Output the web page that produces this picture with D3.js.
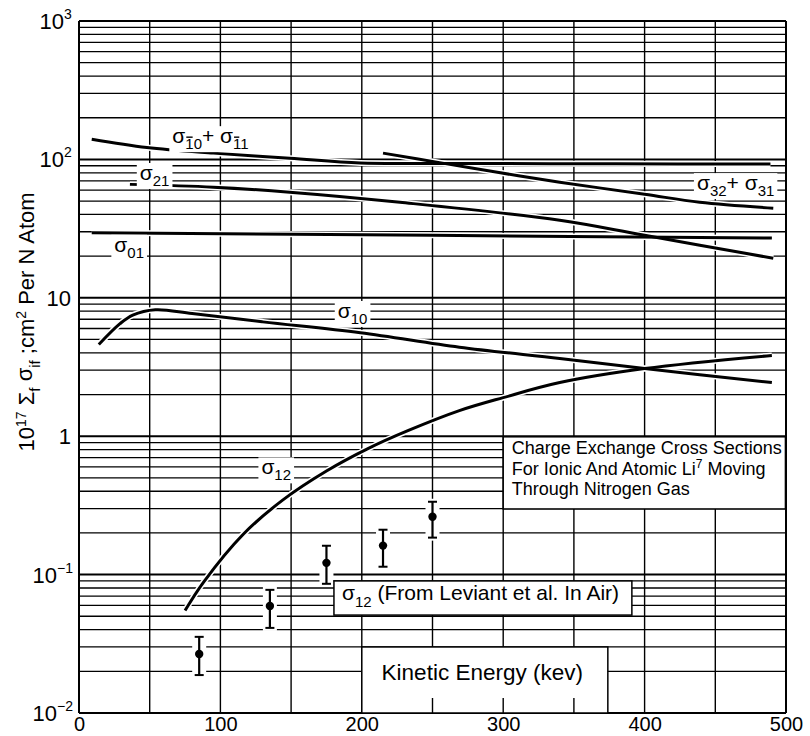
<!DOCTYPE html>
<html>
<head>
<meta charset="utf-8">
<script src="https://cdn.jsdelivr.net/npm/d3@7/dist/d3.min.js"></script>
<style>
	body { margin: 0; background: #fff; }
	text { font-family: "Liberation Sans", Arial, sans-serif; fill: #000; }
</style>
</head>
<body>
<div id="chart"></div>
<script>

// energies in kev, cross sections in 1e-17 cm2 per N atom
const sigNegX = [9, 48, 95, 149, 199, 260, 380, 489];
const sigNegY = [140, 122, 111, 102, 94, 93.5, 93, 92.5];

const sig3X = [215, 257, 298, 340, 400, 439, 491];
const sig3Y = [111, 94, 80, 68.4, 56, 49, 44.4];

const sig21X = [36, 95, 149, 227, 340, 399, 491];
const sig21Y = [66, 63, 58, 49, 36.3, 28.4, 19.3];

const sig01X = [9, 250, 490];
const sig01Y = [29.5, 28.3, 27];

const sig10X = [14, 29, 38, 54, 80, 130, 199, 269, 340, 400, 490];
const sig10Y = [4.6, 6.5, 7.5, 8.2, 7.7, 6.7, 5.6, 4.4, 3.64, 3.08, 2.44];

const sig12X = [75, 88, 116, 144, 175, 204, 233, 269, 300, 340, 400, 490];
const sig12Y = [0.055, 0.088, 0.195, 0.345, 0.56, 0.81, 1.1, 1.53, 1.9, 2.44, 3.08, 3.83];

// Leviant et al., in air
const airX = [85, 135, 175, 215, 250];
const airY = [0.0267, 0.0594, 0.1216, 0.162, 0.262];
const airLo = [0.0188, 0.0412, 0.0858, 0.114, 0.185];
const airHi = [0.0355, 0.0776, 0.1616, 0.211, 0.336];

const xTicks = [0, 100, 200, 300, 400, 500];
const xGrid = d3.range(0, 501, 50);
const yTicks = [0.01, 0.1, 1, 10, 100, 1000];
const yTickExp = ["-2", "-1", "", "", "2", "3"];
const yTickBase = ["10", "10", "1", "10", "10", "10"];

const width = 810, height = 736;
const margin = {top: 21, right: 24, bottom: 23, left: 79};

const x = d3.scaleLinear().domain([0, 500]).range([margin.left, width - margin.right]);
const y = d3.scaleLog().domain([0.01, 1000]).range([height - margin.bottom, margin.top]);

const svg = d3.select("#chart")
	.append("svg")
	.attr("width", width)
	.attr("height", height);

// grid
const gGrid = svg.append("g").attr("class", "grid").attr("stroke", "#000");

const yGrid = [];
for (let e = -2; e < 3; e++) {
	for (let m = 1; m < 10; m++) yGrid.push({v: m * Math.pow(10, e), major: m === 1});
}
yGrid.push({v: 1000, major: true});

gGrid.selectAll("line.h")
	.data(yGrid)
	.join("line")
		.attr("class", "h")
		.attr("x1", x(0)).attr("x2", x(500))
		.attr("y1", d => y(d.v)).attr("y2", d => y(d.v))
		.attr("stroke-width", d => d.major ? 2 : 1.3);

gGrid.selectAll("line.v")
	.data(xGrid)
	.join("line")
		.attr("class", "v")
		.attr("x1", d => x(d)).attr("x2", d => x(d))
		.attr("y1", y(1000)).attr("y2", y(0.01))
		.attr("stroke-width", d => (d === 0 || d === 500) ? 2 : 1.4);

svg.append("line")
	.attr("x1", x(0)).attr("x2", x(500))
	.attr("y1", y(0.01)).attr("y2", y(0.01))
	.attr("stroke", "#000").attr("stroke-width", 2.2);

// curves
const line = d3.line()
	.x(d => x(d[0]))
	.y(d => y(d[1]))
	.curve(d3.curveCatmullRom.alpha(0.5));

const series = [
	[sigNegX, sigNegY],
	[sig3X, sig3Y],
	[sig21X, sig21Y],
	[sig01X, sig01Y],
	[sig10X, sig10Y],
	[sig12X, sig12Y]
].map(s => s[0].map((v, i) => [v, s[1][i]]));

const gCurves = svg.append("g").attr("class", "curves").attr("fill", "none");

gCurves.selectAll("path.halo")
	.data(series)
	.join("path")
		.attr("class", "halo")
		.attr("d", line)
		.attr("stroke", "#fff")
		.attr("stroke-width", 6);

gCurves.selectAll("path.curve")
	.data(series)
	.join("path")
		.attr("class", "curve")
		.attr("d", line)
		.attr("stroke", "#000")
		.attr("stroke-width", 3);

// error bars
const air = airX.map((v, i) => ({x: v, y: airY[i], lo: airLo[i], hi: airHi[i]}));

const gAir = svg.append("g").attr("class", "air").attr("stroke", "#000");

gAir.selectAll("rect")
	.data(air)
	.join("rect")
		.attr("x", d => x(d.x) - 7)
		.attr("y", d => y(d.hi) - 3)
		.attr("width", 14)
		.attr("height", d => y(d.lo) - y(d.hi) + 6)
		.attr("fill", "#fff")
		.attr("stroke", "none");

gAir.selectAll("line.bar")
	.data(air)
	.join("line")
		.attr("class", "bar")
		.attr("x1", d => x(d.x)).attr("x2", d => x(d.x))
		.attr("y1", d => y(d.hi)).attr("y2", d => y(d.lo))
		.attr("stroke-width", 2.2);

gAir.selectAll("line.capHi")
	.data(air)
	.join("line")
		.attr("class", "capHi")
		.attr("x1", d => x(d.x) - 4.5).attr("x2", d => x(d.x) + 4.5)
		.attr("y1", d => y(d.hi)).attr("y2", d => y(d.hi))
		.attr("stroke-width", 2);

gAir.selectAll("line.capLo")
	.data(air)
	.join("line")
		.attr("class", "capLo")
		.attr("x1", d => x(d.x) - 4.5).attr("x2", d => x(d.x) + 4.5)
		.attr("y1", d => y(d.lo)).attr("y2", d => y(d.lo))
		.attr("stroke-width", 2);

gAir.selectAll("circle")
	.data(air)
	.join("circle")
		.attr("cx", d => x(d.x))
		.attr("cy", d => y(d.y))
		.attr("r", 4.2)
		.attr("fill", "#000")
		.attr("stroke", "none");

// curve labels: [keV, value], parts are [text, isSub, overbar]
const curveLabels = [
	{at: [66, 131], parts: [["σ", 0], ["1", 1, 1], ["0", 1], ["+", 0], [" σ", 0], ["1", 1, 1], ["1", 1]]},
	{at: [43, 71], parts: [["σ", 0], ["21", 1]]},
	{at: [25, 21.5], parts: [["σ", 0], ["01", 1]]},
	{at: [183, 7.15], parts: [["σ", 0], ["10", 1]]},
	{at: [129, 0.53], parts: [["σ", 0], ["12", 1]]},
	{at: [437, 60], parts: [["σ", 0], ["32", 1], ["+", 0], [" σ", 0], ["31", 1]]}
];

const gLabels = svg.append("g").attr("class", "labels");

curveLabels.forEach(lab => {
	const g = gLabels.append("g");
	const t = g.append("text")
		.attr("x", x(lab.at[0]))
		.attr("y", y(lab.at[1]))
		.attr("font-size", 21);
	let sub = 0, idx = 0;
	const bars = [];
	lab.parts.forEach(p => {
		const dy = p[1] ? (sub ? 0 : 6) : (sub ? -6 : 0);
		sub = p[1];
		t.append("tspan")
			.attr("dy", dy)
			.attr("font-size", p[1] ? 15 : 21)
			.text(p[0]);
		if (p[2]) bars.push(idx);
		idx += p[0].length;
	});
	const bb = t.node().getBBox();
	g.insert("rect", "text")
		.attr("x", bb.x - 3).attr("y", bb.y + 2)
		.attr("width", bb.width + 6).attr("height", bb.height - 2)
		.attr("fill", "#fff");
	bars.forEach(i => {
		const ext = t.node().getExtentOfChar(i);
		g.append("line")
			.attr("x1", ext.x + 1).attr("x2", ext.x + ext.width - 1)
			.attr("y1", y(lab.at[1]) - 6).attr("y2", y(lab.at[1]) - 6)
			.attr("stroke", "#000").attr("stroke-width", 1.4);
	});
});

// boxes
function box(x0, x1, v0, v1){
	return svg.append("rect")
		.attr("x", x(x0)).attr("y", y(v0))
		.attr("width", x(x1) - x(x0))
		.attr("height", y(v1) - y(v0))
		.attr("fill", "#fff")
		.attr("stroke", "#000")
		.attr("stroke-width", 1.5);
}

box(300, 499.6, 0.99, 0.298);

const title = ["Charge  Exchange Cross Sections", "For Ionic And Atomic Li", "Through Nitrogen Gas"];
const tTitle = svg.append("text")
	.attr("x", x(306))
	.attr("y", y(0.74))
	.attr("font-size", 18);
title.forEach((s, i) => {
	tTitle.append("tspan")
		.attr("x", x(306))
		.attr("dy", i === 0 ? 0 : 20.5)
		.text(s);
	if (i === 1) {
		tTitle.append("tspan").attr("dy", -7).attr("font-size", 12).text("7");
		tTitle.append("tspan").attr("dy", 7).text("  Moving");
	}
});

box(180.3, 391, 0.09, 0.051);
const tAir = svg.append("text")
	.attr("x", x(186))
	.attr("y", y(0.0655))
	.attr("font-size", 21);
tAir.append("tspan").text("σ");
tAir.append("tspan").attr("dy", 7).attr("font-size", 15).text("12");
tAir.append("tspan").attr("dy", -7).text(" (From Leviant et al. In Air)");

box(200, 374, 0.03, 0.01);
svg.append("text")
	.attr("x", x(214))
	.attr("y", y(0.0174))
	.attr("font-size", 22.5)
	.text("Kinetic  Energy (kev)");

svg.selectAll("line.stub")
	.data([250, 300, 350])
	.join("line")
		.attr("class", "stub")
		.attr("x1", d => x(d)).attr("x2", d => x(d))
		.attr("y1", y(0.01) - 15).attr("y2", y(0.01))
		.attr("stroke", "#000").attr("stroke-width", 1.4);

// axes
svg.append("g")
	.attr("transform", `translate(0,${y(0.01)})`)
	.call(d3.axisBottom(x).tickValues(xTicks).tickSize(0).tickPadding(4).tickFormat(d3.format("d")))
	.call(g => g.select(".domain").remove())
	.selectAll("text")
		.attr("font-size", 20)
		.attr("font-family", "Liberation Sans, Arial, sans-serif");

const gY = svg.append("g").attr("class", "yticks");
yTicks.forEach((v, i) => {
	gY.append("text")
		.attr("x", x(0) - 8 - (yTickExp[i] ? yTickExp[i].length * 7 : 0))
		.attr("y", y(v) + 8)
		.attr("text-anchor", "end")
		.attr("font-size", 22)
		.text(yTickBase[i]);
	if (yTickExp[i]) {
		gY.append("text")
			.attr("x", x(0) - 8 - yTickExp[i].length * 7)
			.attr("y", y(v) - 2)
			.attr("font-size", 14)
			.text(yTickExp[i].replace("-", "\u2212"));
	}
});

// y axis title
const yTitle = svg.append("text")
	.attr("transform", `translate(34,${y(6.7)}) rotate(-90)`)
	.attr("text-anchor", "middle")
	.attr("font-size", 22);
yTitle.append("tspan").text("10");
yTitle.append("tspan").attr("dy", -8).attr("font-size", 14).text("17");
yTitle.append("tspan").attr("dy", 8).text(" Σ");
yTitle.append("tspan").attr("dy", 6).attr("font-size", 15).text("f");
yTitle.append("tspan").attr("dy", -8).text(" σ");
yTitle.append("tspan").attr("dy", 8).attr("font-size", 15).text("if");
yTitle.append("tspan").attr("dy", -6).text(" ;cm");
yTitle.append("tspan").attr("dy", -8).attr("font-size", 14).text("2");
yTitle.append("tspan").attr("dy", 8).text(" Per N Atom");

</script>
</body>
</html>
